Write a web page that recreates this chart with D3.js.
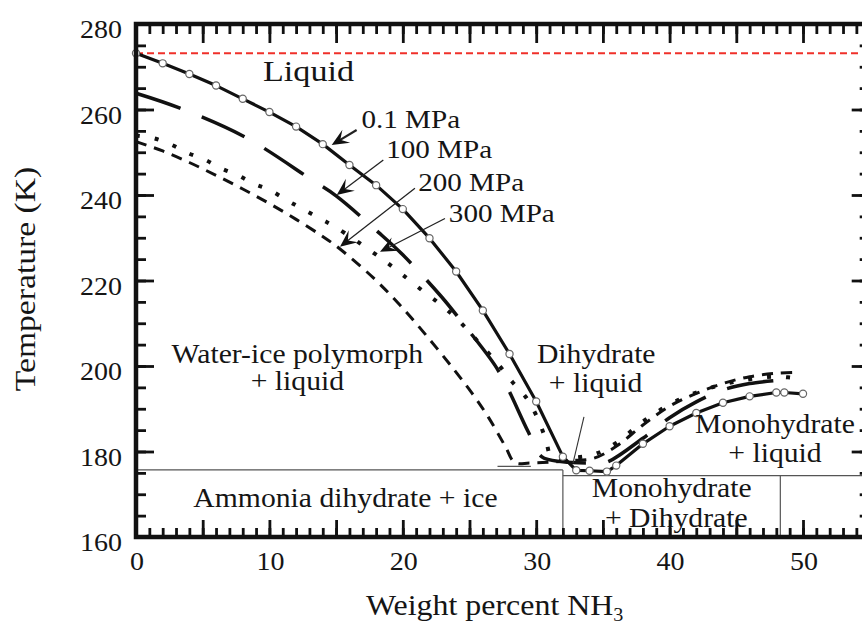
<!DOCTYPE html>
<html>
<head>
<meta charset="utf-8">
<script src="https://cdn.jsdelivr.net/npm/d3@7"></script>
<style>
  body { margin: 0; background: #fff; }
  text { font-family: "Liberation Serif", "Times New Roman", serif; fill: #151515; }
</style>
</head>
<body>
<svg id="chart" width="862" height="626"></svg>
<script>
// ---- Data: liquidus curves of the H2O–NH3 system, [wt% NH3, temperature K] ----
const xLabelTicks = [0, 10, 20, 30, 40, 50];
const yLabelTicks = [160, 180, 200, 220, 240, 260, 280];

// 0.1 MPa (measured points, every point marked)
const curve01 = [
  [0, 273.15], [2, 270.8], [4, 268.3], [6, 265.6], [8, 262.5], [10, 259.4],
  [12, 256.0], [14, 251.9], [16, 247.0], [18, 242.3], [20, 236.7], [22, 229.9],
  [24, 222.1], [26, 213.0], [28, 202.8], [30, 191.7], [32, 178.8], [33, 175.6],
  [34, 175.5], [35.3, 175.3], [36, 176.7], [38, 181.8], [40, 185.9], [42, 189.0],
  [44, 191.4], [46, 192.9], [48, 193.8], [48.6, 193.8], [50, 193.5]
];

// 100 MPa
const curve100 = [
  [0, 263.8], [3.3, 260.3], [8.2, 253.5], [13.2, 243.5], [15.0, 239.8], [18.2, 231.2],
  [20.0, 226.0], [22.9, 216.2], [24.4, 210.4], [26.9, 200.2], [27.8, 195.2],
  [29.4, 184.6], [30.4, 178.8], [32.0, 177.6], [34.0, 177.3], [35.2, 177.4],
  [38.0, 183.1], [40, 187.9], [42, 191.6], [44, 194.4], [46, 195.9], [48.3, 196.7]
];

// 200 MPa
const curve200 = [
  [0, 252.5], [2, 250.3], [4, 247.6], [6, 244.6], [8, 241.4], [10, 238.0],
  [12, 234.3], [14, 230.3], [15.2, 227.6], [17.8, 220.6], [19.8, 214.2],
  [21.8, 207.0], [23.8, 199.3], [25.2, 193.6], [26.4, 188.1], [27.7, 181.1],
  [28.4, 177.4], [29.5, 177.3], [31, 177.5], [32.5, 177.9], [34.3, 178.4],
  [36, 181.2], [38, 186.2], [40, 190.6], [42, 193.6], [44, 195.9], [46, 197.5],
  [48, 198.3], [49.5, 198.5]
];

// 300 MPa
const curve300 = [
  [0, 253.9], [1.3, 253.3], [2.7, 251.7], [3.9, 249.8], [5.2, 248.2], [6.4, 246.2],
  [7.6, 244.7], [8.8, 242.7], [10.0, 241.2], [11.3, 238.8], [12.5, 236.7],
  [13.8, 234.5], [15.0, 232.4], [17.7, 226.7], [18.9, 224.0], [20.0, 221.3],
  [21.4, 217.8], [22.7, 214.7], [23.9, 211.5], [25.5, 206.2], [27.2, 200.2],
  [28.2, 196.3], [29.2, 192.8], [30.0, 188.5], [30.7, 183.0], [31.2, 178.6],
  [33, 178.6], [34.5, 179.5], [36, 182.0], [38, 187.0], [40, 191.0], [42, 193.8],
  [44, 195.7], [46, 196.9], [48, 197.5], [50.1, 196.9]
];

// Phase boundaries (K / wt%)
const eutecticIce = 175.7;      // ammonia dihydrate + ice
const peritecticMono = 174.35;  // monohydrate + dihydrate
const boundaryWt = [32.0, 48.3];
const waterMelt = 273.15;

// ---- Layout ----
const svg = d3.select("#chart");
const SX = 1.12; // horizontal stretch of the serif face
const x = d3.scaleLinear().domain([0, 55]).range([136, 136 + 55 * 13.34]);
const y = d3.scaleLinear().domain([160, 280]).range([537, 24]);

svg.append("rect").attr("width", 862).attr("height", 626).attr("fill", "#fff");

function label(g, px, py, str, size, anchor = "start", rot = 0) {
  return g.append("text")
    .attr("transform", `translate(${px},${py}) rotate(${rot}) scale(${SX},1)`)
    .attr("text-anchor", anchor)
    .style("font-size", size + "px")
    .text(str);
}

const plot = svg.append("g");

// Phase boundary lines
const thin = { stroke: "#555", width: 1.2 };
function segment(x1, t1, x2, t2) {
  plot.append("line")
    .attr("x1", x(x1)).attr("y1", y(t1)).attr("x2", x(x2)).attr("y2", y(t2))
    .attr("stroke", thin.stroke).attr("stroke-width", thin.width);
}
segment(0, eutecticIce, boundaryWt[0], eutecticIce);
segment(boundaryWt[0], peritecticMono, 55, peritecticMono);
segment(boundaryWt[0], eutecticIce, boundaryWt[0], 160);
segment(boundaryWt[1], peritecticMono, boundaryWt[1], 160);
segment(27.1, 176.5, 29.6, 176.5);

// Pure-water melting point
plot.append("line")
  .attr("x1", x(0)).attr("x2", x(55))
  .attr("y1", y(waterMelt)).attr("y2", y(waterMelt))
  .attr("stroke", "#f0302a").attr("stroke-width", 2)
  .attr("stroke-dasharray", "7,4");

// Liquidus curves
const straight = d3.line().x(d => x(d[0])).y(d => y(d[1]));
const smooth = d3.line().curve(d3.curveCatmullRom.alpha(0.5)).x(d => x(d[0])).y(d => y(d[1]));

plot.append("path").datum(curve300).attr("d", smooth)
  .attr("fill", "none").attr("stroke", "#111").attr("stroke-width", 4)
  .attr("stroke-dasharray", "4,15");
plot.append("path").datum(curve200).attr("d", smooth)
  .attr("fill", "none").attr("stroke", "#111").attr("stroke-width", 3)
  .attr("stroke-dasharray", "11,8");
plot.append("path").datum(curve100).attr("d", smooth)
  .attr("fill", "none").attr("stroke", "#111").attr("stroke-width", 3.5)
  .attr("stroke-dasharray", "47,23");
plot.append("path").datum(curve01).attr("d", straight)
  .attr("fill", "none").attr("stroke", "#111").attr("stroke-width", 3.2)
  .attr("stroke-linejoin", "round");
plot.selectAll("circle.pt").data(curve01).join("circle")
  .attr("class", "pt")
  .attr("cx", d => x(d[0])).attr("cy", d => y(d[1])).attr("r", 3.6)
  .attr("fill", "#fff").attr("stroke", "#666").attr("stroke-width", 1.2);

// Pressure labels with arrows
const pressureNotes = [
  { text: "0.1 MPa", at: [16.9, 255.6], from: [16.54, 255.2], to: [14.67, 251.7], w: 2.2 },
  { text: "100 MPa", at: [18.75, 248.6], from: [18.54, 248.2], to: [15.05, 240.0], w: 1.3 },
  { text: "200 MPa", at: [21.15, 241.0], from: [20.91, 241.6], to: [15.29, 227.9], w: 1.3 },
  { text: "300 MPa", at: [23.45, 233.6], from: [23.16, 234.5], to: [18.29, 226.7], w: 1.3 }
];
pressureNotes.forEach(n => {
  const x1 = x(n.from[0]), y1 = y(n.from[1]), x2 = x(n.to[0]), y2 = y(n.to[1]);
  const ang = Math.atan2(y2 - y1, x2 - x1);
  plot.append("line").attr("x1", x1).attr("y1", y1)
    .attr("x2", x2 - 8 * Math.cos(ang)).attr("y2", y2 - 8 * Math.sin(ang))
    .attr("stroke", "#222").attr("stroke-width", n.w);
  const L = 17, W = 7.5, N = 10;
  const c = Math.cos(ang), s = Math.sin(ang);
  const pts = [
    [x2, y2],
    [x2 - L * c + W * s, y2 - L * s - W * c],
    [x2 - N * c, y2 - N * s],
    [x2 - L * c - W * s, y2 - L * s + W * c]
  ];
  plot.append("path").attr("d", "M" + pts.map(p => p.join(",")).join("L") + "Z").attr("fill", "#111");
  label(plot, x(n.at[0]), y(n.at[1]), n.text, 26);
});

// Pointer for the dihydrate + liquid field
plot.append("line")
  .attr("x1", x(33.58)).attr("y1", y(188.1)).attr("x2", x(32.76)).attr("y2", y(177.3))
  .attr("stroke", "#333").attr("stroke-width", 1.1);

// Region labels
label(plot, x(9.52), y(266.55), "Liquid", 30.5);
label(plot, x(12.1), y(200.8), "Water-ice polymorph", 26.5, "middle");
label(plot, x(12.1), y(194.4), "+ liquid", 26.5, "middle");
label(plot, x(34.5), y(200.6), "Dihydrate", 26.5, "middle");
label(plot, x(34.45), y(194.0), "+ liquid", 26.5, "middle");
label(plot, x(47.9), y(184.3), "Monohydrate", 26.5, "middle");
label(plot, x(47.9), y(177.6), "+ liquid", 26.5, "middle");
label(plot, x(15.7), y(167.1), "Ammonia dihydrate + ice", 26.5, "middle");
label(plot, x(40.16), y(169.4), "Monohydrate", 26.5, "middle");
label(plot, x(40.5), y(162.4), "+ Dihydrate", 26.5, "middle");

// ---- Axes: inward ticks on all four sides ----
const axes = svg.append("g");
function styleAxis(g) {
  g.select(".domain").remove();
  g.selectAll(".tick line").attr("stroke", "#111").attr("stroke-width", 2.8);
}
const minorX = d3.range(0, 56, 1), majorX = d3.range(0, 56, 5);
const minorY = d3.range(160, 281, 5), majorY = d3.range(160, 281, 20);

[[minorX, 9], [majorX, 17]].forEach(([vals, len]) => {
  axes.append("g").attr("transform", `translate(0,${y(160)})`)
    .call(d3.axisBottom(x).tickValues(vals).tickSize(-len).tickFormat("")).call(styleAxis);
});
[[minorX, 10], [majorX, 19]].forEach(([vals, len]) => {
  axes.append("g").attr("transform", `translate(0,${y(280)})`)
    .call(d3.axisTop(x).tickValues(vals).tickSize(-len).tickFormat("")).call(styleAxis);
});
[[minorY, 10], [majorY, 18]].forEach(([vals, len]) => {
  axes.append("g").attr("transform", `translate(${x(0)},0)`)
    .call(d3.axisLeft(y).tickValues(vals).tickSize(-len).tickFormat("")).call(styleAxis);
  axes.append("g").attr("transform", `translate(${x(55)},0)`)
    .call(d3.axisRight(y).tickValues(vals).tickSize(-len).tickFormat("")).call(styleAxis);
});

axes.append("rect")
  .attr("x", x(0)).attr("y", y(280))
  .attr("width", x(55) - x(0)).attr("height", y(160) - y(280))
  .attr("fill", "none").attr("stroke", "#111").attr("stroke-width", 4.5);

// Tick labels
xLabelTicks.forEach(v => label(axes, x(v) + 1, 570, String(v), 25, "middle"));
yLabelTicks.forEach(v => label(axes, 122, y(v) + 14, String(v), 25, "end"));

// Axis titles
const xt = axes.append("text")
  .attr("transform", `translate(366,615) scale(${SX},1)`)
  .style("font-size", "28.5px");
xt.append("tspan").text("Weight percent NH");
xt.append("tspan").attr("dy", 6).style("font-size", "18px").text("3");

label(axes, 35, 279, "Temperature (K)", 30, "middle", -90);
</script>
</body>
</html>
